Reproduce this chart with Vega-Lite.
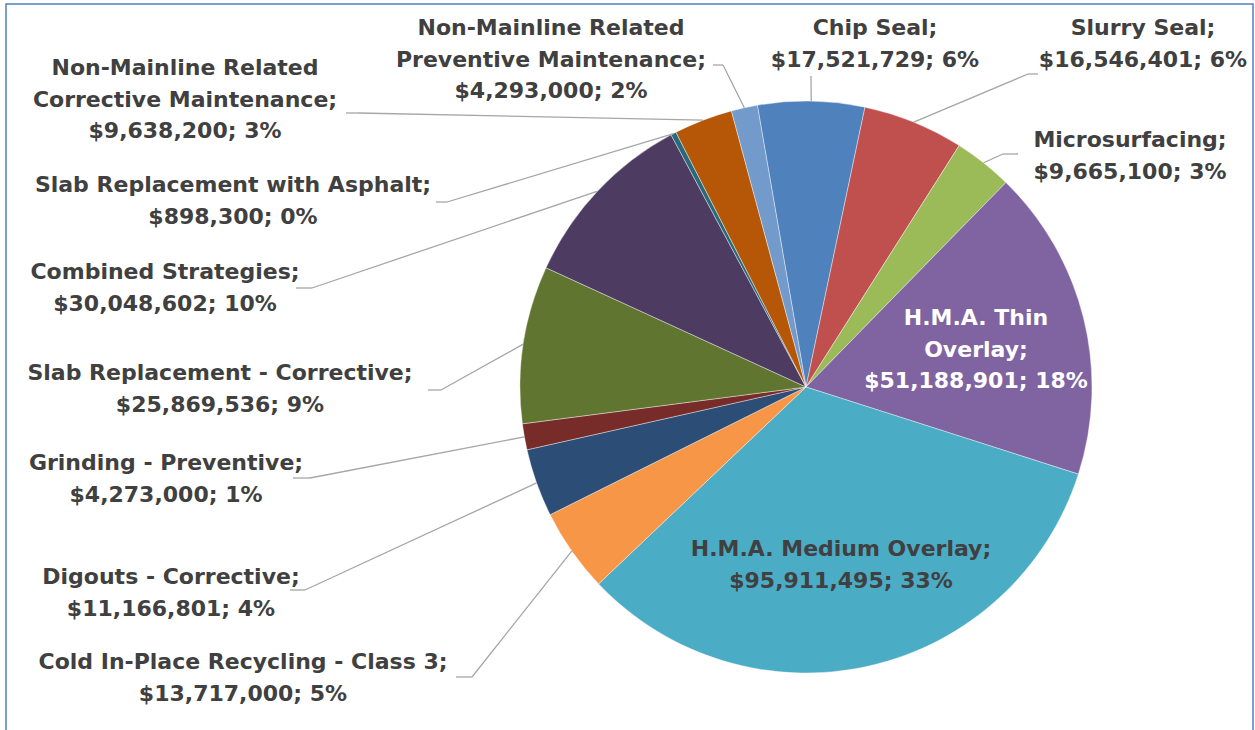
{
  "$schema": "https://vega.github.io/schema/vega-lite/v6.json",
  "width": 1247,
  "height": 730,
  "autosize": "none",
  "padding": {"left": 6, "top": 4, "right": 2, "bottom": 0},
  "background": "white",
  "config": {"view": {"stroke": "#4F81BD", "strokeWidth": 1.5}},
  "data": {
    "values": [
      {"cat": "Chip Seal", "value": 17521729, "label": ["Chip Seal;", "$17,521,729; 6%"]},
      {"cat": "Slurry Seal", "value": 16546401, "label": ["Slurry Seal;", "$16,546,401; 6%"]},
      {"cat": "Microsurfacing", "value": 9665100, "label": ["Microsurfacing;", "$9,665,100; 3%"]},
      {"cat": "H.M.A. Thin Overlay", "value": 51188901, "label": ["H.M.A. Thin", "Overlay;", "$51,188,901; 18%"]},
      {"cat": "H.M.A. Medium Overlay", "value": 95911495, "label": ["H.M.A. Medium Overlay;", "$95,911,495; 33%"]},
      {"cat": "Cold In-Place Recycling - Class 3", "value": 13717000, "label": ["Cold In-Place Recycling - Class 3;", "$13,717,000; 5%"]},
      {"cat": "Digouts - Corrective", "value": 11166801, "label": ["Digouts - Corrective;", "$11,166,801; 4%"]},
      {"cat": "Grinding - Preventive", "value": 4273000, "label": ["Grinding - Preventive;", "$4,273,000; 1%"]},
      {"cat": "Slab Replacement - Corrective", "value": 25869536, "label": ["Slab Replacement - Corrective;", "$25,869,536; 9%"]},
      {"cat": "Combined Strategies", "value": 30048602, "label": ["Combined Strategies;", "$30,048,602; 10%"]},
      {"cat": "Slab Replacement with Asphalt", "value": 898300, "label": ["Slab Replacement with Asphalt;", "$898,300; 0%"]},
      {"cat": "Non-Mainline Related Corrective Maintenance", "value": 9638200, "label": ["Non-Mainline Related", "Corrective Maintenance;", "$9,638,200; 3%"]},
      {"cat": "Non-Mainline Related Preventive Maintenance", "value": 4293000, "label": ["Non-Mainline Related", "Preventive Maintenance;", "$4,293,000; 2%"]}
    ]
  },
  "transform": [
    {"window": [{"op": "sum", "field": "value", "as": "cum"}, {"op": "row_number", "as": "rn"}], "frame": [null, 0]},
    {"joinaggregate": [{"op": "sum", "field": "value", "as": "total"}]},
    {"calculate": "-0.171 + 2*PI*(datum.cum - datum.value/2)/datum.total", "as": "am"},
    {"calculate": "286*sin(datum.am)", "as": "ex"},
    {"calculate": "286*cos(datum.am)", "as": "ey"},
    {"calculate": "[[69,359,5,311,5],[337,359,232,313,222],[324,247,212,233,197],[170,69,0,0,0],[35,-162,0,0,0],[-563,-275,-350,-290,-334],[-635,-190,-516,-203,-501],[-640,-76,-513,-91,-496],[-586,14,-378,-3,-365],[-641,115,-510,99,-494],[-573,202,-370,185,-359],[-621,319,-460,274,-448],[-255,359,-93,322,-83]][datum.rn-1]", "as": "L"},
    {"calculate": "datum.L[0]", "as": "tx"},
    {"calculate": "datum.L[1]", "as": "ty"},
    {"calculate": "datum.L[2]", "as": "lx"},
    {"calculate": "datum.L[3]", "as": "ly"},
    {"calculate": "datum.L[4]", "as": "sx"}
  ],
  "layer": [
    {
      "mark": {"type": "arc", "outerRadius": 286, "stroke": "#ffffff", "strokeWidth": 0.4},
      "encoding": {
        "x": {"datum": 0, "type": "quantitative", "scale": {"domain": [-800, 447], "nice": false, "zero": false}, "axis": null},
        "y": {"datum": 0, "type": "quantitative", "scale": {"domain": [-347, 383], "nice": false, "zero": false}, "axis": null},
        "theta": {"field": "value", "type": "quantitative", "stack": true, "scale": {"range": [-0.171, 6.11219], "nice": false}},
        "order": {"field": "cum", "type": "quantitative"},
        "color": {
          "field": "cat", "type": "nominal", "legend": null,
          "scale": {
            "domain": ["Chip Seal", "Slurry Seal", "Microsurfacing", "H.M.A. Thin Overlay", "H.M.A. Medium Overlay", "Cold In-Place Recycling - Class 3", "Digouts - Corrective", "Grinding - Preventive", "Slab Replacement - Corrective", "Combined Strategies", "Slab Replacement with Asphalt", "Non-Mainline Related Corrective Maintenance", "Non-Mainline Related Preventive Maintenance"],
            "range": ["#4F81BD", "#C0504D", "#9BBB59", "#8064A2", "#4BACC6", "#F79646", "#2C4D75", "#772C2A", "#5F7530", "#4D3B62", "#276A7C", "#B65708", "#729ACA"]
          }
        }
      }
    },
    {
      "transform": [{"filter": "datum.rn != 4 && datum.rn != 5"}],
      "mark": {"type": "rule", "color": "#A6A6A6", "strokeWidth": 1.3},
      "encoding": {
        "x": {"field": "lx", "type": "quantitative"},
        "x2": {"field": "sx"},
        "y": {"field": "ly", "type": "quantitative"}
      }
    },
    {
      "transform": [{"filter": "datum.rn != 4 && datum.rn != 5"}],
      "mark": {"type": "rule", "color": "#A6A6A6", "strokeWidth": 1.3},
      "encoding": {
        "x": {"field": "sx", "type": "quantitative"},
        "y": {"field": "ly", "type": "quantitative"},
        "x2": {"field": "ex"},
        "y2": {"field": "ey"}
      }
    },
    {
      "mark": {"type": "text", "font": "DejaVu Sans", "fontWeight": "bold", "fontSize": 22, "lineHeight": 31.5, "align": "center", "baseline": "middle"},
      "encoding": {
        "x": {"field": "tx", "type": "quantitative"},
        "y": {"field": "ty", "type": "quantitative"},
        "text": {"field": "label"},
        "color": {"condition": {"test": "datum.rn == 4", "value": "#FFFFFF"}, "value": "#404040"}
      }
    }
  ]
}
